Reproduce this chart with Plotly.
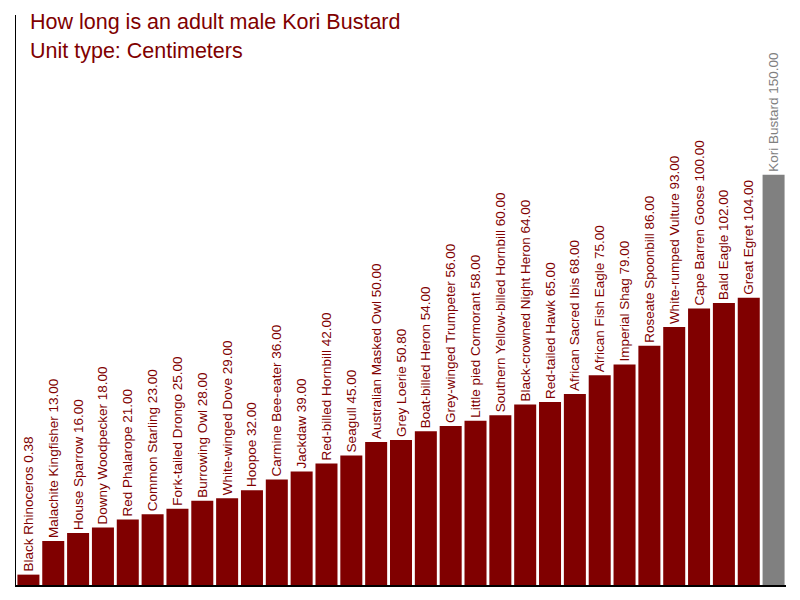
import plotly.graph_objects as go

birds = ["Black Rhinoceros", "Malachite Kingfisher", "House Sparrow", "Downy Woodpecker",
         "Red Phalarope", "Common Starling", "Fork-tailed Drongo", "Burrowing Owl",
         "White-winged Dove", "Hoopoe", "Carmine Bee-eater", "Jackdaw", "Red-billed Hornbill",
         "Seagull", "Australian Masked Owl", "Grey Loerie", "Boat-billed Heron",
         "Grey-winged Trumpeter", "Little pied Cormorant", "Southern Yellow-billed Hornbill",
         "Black-crowned Night Heron", "Red-tailed Hawk", "African Sacred Ibis",
         "African Fish Eagle", "Imperial Shag", "Roseate Spoonbill", "White-rumped Vulture",
         "Cape Barren Goose", "Bald Eagle", "Great Egret", "Kori Bustard"]
lengths = [0.38, 13, 16, 18, 21, 23, 25, 28, 29, 32, 36, 39, 42, 45, 50, 50.8, 54, 56, 58, 60,
           64, 65, 68, 75, 79, 86, 93, 100, 102, 104, 150]
highlight = "Kori Bustard"

MAROON = "#800000"
GREY = "#808080"
Y_MIN = -3.5
Y_MAX = 209.8

bar_colors = [GREY if b == highlight else MAROON for b in birds]
text_colors = [GREY if b == highlight else MAROON for b in birds]
labels = [f"{b} {v:.2f}" for b, v in zip(birds, lengths)]
FONT = "Liberation Sans, Arial, sans-serif"

fig = go.Figure(go.Bar(
    x=birds, y=[v - Y_MIN for v in lengths], base=Y_MIN,
    marker=dict(color=bar_colors, line=dict(width=0)),
    text=labels, textposition="outside", textangle=-90,
    textfont=dict(family=FONT, size=13.5, color=text_colors),
    constraintext="none", cliponaxis=False, hoverinfo="skip",
))

fig.update_layout(
    width=800, height=600,
    margin=dict(l=8, r=22, t=7, b=23),
    paper_bgcolor="white", plot_bgcolor="white",
    bargap=0.114, showlegend=False,
    font=dict(family=FONT),
    xaxis=dict(showticklabels=False, ticks="", showgrid=False, zeroline=False,
               showline=True, linecolor="black", linewidth=1.5, range=[-0.5, 30.5]),
    yaxis=dict(showticklabels=False, ticks="", showgrid=False, zeroline=False,
               showline=True, linecolor="black", linewidth=1, range=[Y_MIN, Y_MAX]),
    annotations=[
        dict(text="How long is an adult male Kori Bustard", xref="paper", yref="paper",
             x=0, y=1, xanchor="left", yanchor="top", xshift=12, yshift=7, showarrow=False,
             font=dict(size=21.5, color=MAROON, family=FONT)),
        dict(text="Unit type: Centimeters", xref="paper", yref="paper",
             x=0, y=1, xanchor="left", yanchor="top", xshift=12, yshift=-22, showarrow=False,
             font=dict(size=21.5, color=MAROON, family=FONT)),
    ],
)

fig.write_html("out.html")
